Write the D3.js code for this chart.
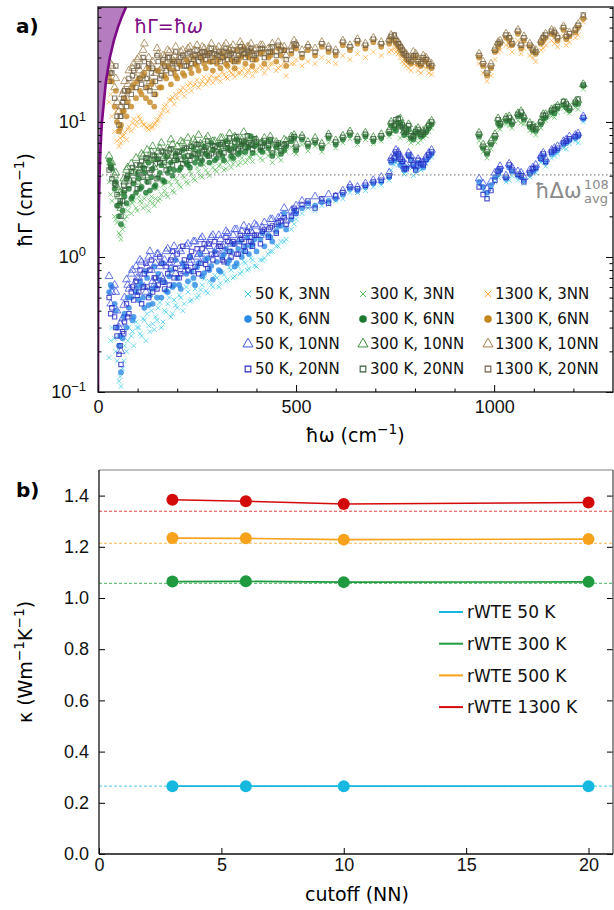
<!DOCTYPE html>
<html>
<head>
<meta charset="utf-8">
<script src="https://cdn.jsdelivr.net/npm/d3@7"></script>
<style>
  body { margin: 0; background: #fff; }
  svg { font-family: "DejaVu Sans", Verdana, sans-serif; }
</style>
</head>
<body>
<svg id="fig" width="614" height="910"></svg>
<script>
// ---------- panel a) data : linewidth vs frequency ----------
// two frequency grids, each series has one gamma list per grid
var omega = [
  28,35,42,48,53,58,62,67,72,78,84,90,96,
  103,110,117,124,131,138,145,152,160,168,176,184,192,
  200,209,218,227,236,245,254,263,272,281,290,
  300,309,318,327,336,345,354,363,372,381,390,
  400,410,420,430,440,450,462,475,488,
  500,515,530,548,565,582,600,618,636,
  655,675,695,715,735,748,758,768,778,790,802,815,828,842,
  962,972,982,992,1002,1015,1030,1045,1060,1075,1090,1105,1118,1130,1145,1160,1175,1190,1205,1225
];
var omegaB = [
  32,45,56,65,75,87,99,
  106,114,121,128,135,142,149,156,164,172,180,188,196,
  205,214,223,232,241,250,259,268,277,286,295,
  305,314,323,332,341,350,359,368,377,386,395,
  415,435,455,470,495,
  740,752,763,773,784,796,808,821,835,
  1010,1038,1068,1098,1124,1152,1182,1212
];

// 50 K
var g50_3 = [
  0.18,0.3,0.25,0.17,0.12,0.11,0.15,0.22,0.2,0.3,0.26,0.22,0.33,
  0.3,0.26,0.34,0.38,0.28,0.32,0.36,0.42,0.3,0.4,0.45,0.36,0.48,
  0.42,0.5,0.45,0.55,0.48,0.58,0.52,0.62,0.56,0.66,0.6,
  0.7,0.64,0.74,0.68,0.8,0.72,0.85,0.78,0.9,0.82,0.95,
  0.85,0.95,0.98,1.05,1.1,1.2,1.3,1.35,1.6,
  1.9,2.1,2.3,2.2,2.4,2.45,2.6,2.7,3.0,
  3.0,3.1,3.3,3.4,3.7,4.8,5.2,4.6,4.3,4.9,4.2,4.4,4.9,5.5,
  3.4,3.1,2.8,3.2,3.6,4.1,3.6,4.0,3.7,3.5,3.9,4.2,5.0,4.7,5.4,5.8,6.4,6.9,7.2,10
];
var g50_3b = [
  0.24,0.2,0.13,0.17,0.24,0.28,0.3,
  0.27,0.35,0.24,0.31,0.4,0.29,0.34,0.46,0.33,0.39,0.5,0.38,0.44,
  0.52,0.4,0.6,0.47,0.64,0.5,0.57,0.69,0.54,0.62,0.73,
  0.6,0.76,0.66,0.84,0.7,0.88,0.75,0.92,0.8,0.98,0.86,
  0.95,1.1,1.2,1.3,1.75,
  4.4,5.0,4.9,4.1,4.6,4.0,4.5,4.7,5.2,
  3.9,3.7,4.2,4.4,5.2,5.6,6.3,7.0
];
var g50_6 = [
  0.55,0.6,0.45,0.3,0.22,0.14,0.25,0.38,0.3,0.42,0.5,0.36,0.55,
  0.48,0.62,0.42,0.7,0.52,0.45,0.6,0.75,0.5,0.65,0.55,0.8,0.62,
  0.7,0.58,0.85,0.66,0.78,0.62,0.9,0.72,0.95,0.8,0.68,
  0.92,0.78,1.05,0.9,1.1,0.85,1.15,1.0,1.2,1.05,1.25,
  1.1,1.35,1.2,1.45,1.3,1.55,1.7,1.6,1.9,
  2.1,2.3,2.5,2.4,2.55,2.6,2.7,2.9,3.2,
  3.1,3.3,3.5,3.6,3.9,5.2,5.6,5.0,4.6,5.3,4.5,4.8,5.2,5.8,
  3.6,3.3,3.0,3.4,3.9,4.4,3.8,4.3,4.0,3.7,4.1,4.5,5.3,5.0,5.8,6.2,6.8,7.3,7.6,10.5
];
var g50_6b = [
  0.62,0.4,0.26,0.36,0.5,0.34,0.6,
  0.66,0.5,0.78,0.44,0.58,0.85,0.5,0.68,0.9,0.56,0.72,0.6,0.95,
  0.62,0.9,0.75,1.0,0.7,0.84,1.05,0.76,0.98,0.86,1.1,
  0.8,1.0,1.15,0.95,1.25,0.9,1.3,1.1,1.4,1.2,1.35,
  1.5,1.4,1.7,2.1,2.2,
  5.0,5.8,4.8,4.4,5.6,4.7,5.0,4.6,5.5,
  4.1,4.6,3.9,4.3,5.6,6.0,7.0,7.8
];
var g50_10 = [
  0.72,0.55,0.62,0.4,0.3,0.2,0.35,0.5,0.68,0.58,0.75,0.62,0.85,
  0.7,0.92,0.6,0.85,1.1,0.66,0.9,1.05,0.72,0.95,1.15,0.82,1.2,
  0.9,1.1,0.78,1.25,0.95,1.3,1.05,1.4,1.1,1.2,1.45,
  1.15,1.35,1.1,1.5,1.25,1.6,1.3,1.55,1.4,1.65,1.5,
  1.7,1.45,1.8,1.6,1.9,1.75,2.0,1.85,2.2,
  2.4,2.6,2.4,2.8,2.6,2.9,2.8,3.1,3.4,
  3.3,3.5,3.7,3.9,4.2,5.5,6.0,5.3,4.8,5.6,4.7,5.0,5.5,6.2,
  3.8,3.5,3.2,3.6,4.2,4.7,4.0,4.6,4.3,3.9,4.4,4.8,5.6,5.3,6.2,6.6,7.2,7.8,8.0,11
];
var g50_10b = [
  0.45,0.55,0.32,0.44,0.62,0.8,0.7,
  0.95,0.75,0.55,1.0,0.8,0.62,1.05,0.85,0.68,1.1,0.9,1.0,0.75,
  1.15,0.85,1.2,0.9,1.3,1.0,1.35,0.95,1.25,1.4,1.05,
  1.45,1.2,1.55,1.3,1.45,1.6,1.35,1.7,1.5,1.55,1.75,
  1.65,1.9,1.95,2.3,2.1,
  5.4,6.2,5.5,4.7,5.9,4.9,5.3,5.0,5.9,
  4.4,4.9,4.2,4.6,5.9,6.4,7.4,8.2
];
var g50_20 = [
  0.5,0.42,0.36,0.26,0.19,0.16,0.28,0.33,0.45,0.38,0.55,0.48,0.66,
  0.55,0.45,0.75,0.6,0.8,0.55,0.7,0.62,0.9,0.58,0.75,0.95,0.7,
  1.05,0.75,0.95,0.8,1.1,0.85,0.75,1.15,0.88,1.25,0.95,
  1.05,1.2,0.92,1.3,1.0,1.25,1.05,1.35,1.1,1.3,1.2,
  1.45,1.25,1.6,1.4,1.7,1.5,1.85,1.75,2.0,
  2.2,2.45,2.6,2.3,2.7,2.5,2.85,3.0,3.3,
  3.2,3.4,3.6,3.7,4.0,5.4,5.8,5.1,4.5,5.2,4.4,4.9,5.3,6.0,
  3.3,2.9,2.7,3.1,3.7,4.5,3.9,4.4,4.1,3.6,4.2,4.6,5.4,5.1,6.0,6.4,7.0,7.5,7.8,10.8
];
var g50_20b = [
  0.38,0.3,0.22,0.27,0.36,0.6,0.52,
  0.8,0.6,0.9,0.5,0.95,0.7,0.58,1.0,0.65,0.85,0.62,1.1,0.82,
  0.7,1.2,0.85,1.0,0.78,1.15,0.9,1.25,0.82,1.05,1.3,
  1.2,0.95,1.4,1.1,1.3,1.05,1.45,1.2,1.55,1.3,1.45,
  1.55,1.65,1.8,1.95,2.3,
  5.2,6.0,5.3,4.5,5.7,4.8,5.2,4.8,5.7,
  4.3,4.8,4.0,4.5,5.8,6.2,7.2,8.0
];

// 300 K
var g300_3 = [
  3.6,2.6,2.0,1.8,1.5,1.35,1.6,1.9,2.0,2.4,2.1,2.6,2.3,
  2.8,2.5,2.7,2.4,2.6,2.5,2.7,2.6,2.9,3.1,2.8,3.4,3.0,
  3.6,3.3,3.9,3.5,4.1,3.7,4.3,3.9,4.4,4.0,4.6,
  4.3,4.8,4.4,5.0,4.6,5.2,4.8,5.4,5.0,5.5,5.1,
  5.8,5.4,6.0,5.6,5.0,5.8,5.2,6.0,6.5,
  5.8,6.8,6.1,6.6,6.0,7.0,6.4,7.0,7.5,
  6.8,7.4,6.9,7.2,7.8,8.6,9.2,8.6,7.9,7.0,7.6,7.3,7.9,9.0,
  7.2,6.0,5.4,6.3,7.1,8.8,9.6,9.0,10.2,9.6,8.6,8.0,9.0,10.2,11.0,11.8,12.6,11.6,12.8,17.5
];
var g300_3b = [
  2.9,1.9,1.45,1.7,2.2,2.5,2.2,
  2.6,2.3,2.9,2.2,2.8,2.4,3.2,2.7,3.4,2.9,3.6,3.1,3.8,
  3.4,4.0,3.6,4.3,3.8,4.6,4.0,4.8,4.2,5.0,4.4,
  4.7,5.1,4.5,5.3,4.9,5.6,5.0,5.8,5.2,5.5,5.9,
  5.2,5.9,5.5,6.2,6.0,
  8.2,8.9,7.6,8.4,7.3,7.8,7.0,7.6,8.5,
  9.0,9.4,9.8,8.4,10.0,10.8,12.0,12.4
];
var g300_6 = [
  5.2,4.5,3.2,2.4,2.0,1.75,2.2,2.8,2.5,3.2,2.7,3.5,3.0,
  3.8,3.3,4.2,3.6,3.1,4.5,3.4,3.9,4.8,3.6,4.2,5.0,4.4,
  5.2,4.6,5.5,4.8,5.6,5.0,6.0,5.2,5.8,5.0,6.2,
  5.4,6.0,5.2,6.4,5.6,6.5,5.8,6.8,6.0,6.6,5.9,
  6.8,6.2,7.0,6.4,5.6,6.5,5.8,6.6,7.2,
  6.2,7.4,6.6,7.0,6.4,7.6,6.8,7.4,8.0,
  7.2,7.8,7.2,7.6,8.2,9.0,9.8,9.2,8.4,7.6,8.2,7.8,8.4,9.6,
  7.8,6.4,5.8,6.8,7.6,9.4,10.2,9.6,11.0,10.4,9.2,8.6,9.6,10.8,11.8,12.6,13.4,12.2,13.6,18.5
];
var g300_6b = [
  4.8,3.6,2.5,3.0,3.9,2.8,4.1,
  3.2,4.6,3.0,5.0,3.9,3.3,5.3,4.2,3.7,5.5,4.5,4.0,5.8,
  4.4,6.2,5.0,4.6,6.4,5.4,4.9,6.6,5.6,7.0,5.2,
  6.8,5.6,7.2,6.2,5.4,7.4,6.0,7.0,6.4,7.8,6.6,
  6.0,7.2,6.8,6.2,7.6,
  9.4,8.6,9.8,8.0,8.8,7.4,8.4,8.0,9.0,
  9.8,10.2,11.2,8.8,10.6,11.6,12.8,13.6
];
var g300_10 = [
  5.6,5.0,4.0,3.3,2.8,2.3,3.0,3.6,4.4,3.8,4.9,4.2,5.4,
  4.6,5.8,4.8,6.2,5.2,6.6,5.4,6.0,7.0,5.6,6.4,7.4,5.9,
  6.6,7.2,6.0,7.6,6.4,7.0,8.0,6.6,7.4,6.2,7.2,
  6.5,7.6,6.6,7.2,6.8,7.8,6.9,7.4,7.0,7.6,6.8,
  7.4,6.9,7.6,7.0,6.2,7.1,6.4,7.2,7.8,
  6.8,7.9,7.1,7.6,6.9,8.1,7.3,7.9,8.5,
  7.7,8.3,7.7,8.1,8.7,9.6,10.4,9.7,8.9,8.1,8.7,8.3,8.9,10.2,
  8.3,6.8,6.2,7.2,8.1,9.9,10.8,10.2,11.6,11.0,9.8,9.1,10.2,11.4,12.4,13.2,14.0,12.8,14.2,19
];
var g300_10b = [
  5.0,4.2,3.0,3.8,4.6,4.2,3.6,
  4.4,5.6,4.0,5.2,6.0,4.6,5.4,6.4,4.8,5.8,5.2,6.8,5.4,
  5.6,7.0,5.2,6.6,7.4,5.8,6.9,6.2,7.8,6.4,7.2,
  6.2,7.6,6.8,8.2,6.4,7.4,7.0,8.4,6.8,7.6,7.2,
  7.0,7.8,6.6,7.4,8.0,
  10.0,9.4,10.6,8.6,9.6,8.0,9.0,8.6,9.7,
  10.6,11.0,12.0,9.4,11.4,12.6,13.8,14.4
];
var g300_20 = [
  4.4,3.8,3.5,2.9,2.4,2.0,2.6,3.1,3.8,3.4,4.3,3.7,4.8,
  4.2,5.1,4.5,5.4,4.2,5.7,4.9,5.3,6.1,5.0,5.6,6.3,5.2,
  6.0,5.3,6.4,5.6,6.6,5.8,6.8,6.0,6.5,5.6,6.7,
  6.0,6.8,5.9,6.9,6.2,7.1,6.3,7.2,6.5,7.0,6.3,
  7.1,6.5,7.3,6.7,5.9,6.8,6.1,6.9,7.5,
  6.5,7.7,6.9,7.3,6.7,7.9,7.1,7.7,8.3,
  7.5,8.1,7.5,7.9,8.5,9.4,10.6,9.5,8.7,7.9,8.5,8.1,8.7,10.0,
  8.1,6.6,6.0,7.0,7.9,9.7,10.6,10.0,11.4,10.8,9.6,8.9,10.0,11.2,12.2,13.0,14.2,12.6,14.0,18.8
];
var g300_20b = [
  4.6,3.4,2.6,3.4,4.0,4.6,3.2,
  4.8,3.9,5.4,3.6,4.4,5.6,3.8,5.0,6.0,4.4,6.2,4.8,5.6,
  6.0,4.9,6.4,5.2,5.8,6.8,5.4,6.2,7.2,5.8,6.6,
  5.8,7.0,6.4,7.6,6.0,7.8,6.6,7.2,7.9,6.8,7.5,
  6.6,7.4,7.0,6.8,7.8,
  9.8,10.4,9.2,8.4,9.4,7.8,8.8,8.4,9.4,
  10.4,10.8,11.8,9.2,11.2,12.4,13.6,14.8
];

// 1300 K
var g1300_3 = [
  14,11,8.5,7.2,6.6,7.0,7.8,8.4,7.4,9.2,8.6,10.5,9.4,
  11,10,9.5,9.0,9.4,9.2,9.8,10.4,11.5,13,12,14.5,13.5,
  15,17,15.5,18.5,17,19,18,20,19,21,19.5,
  21,20,22.5,21,23,21.5,23,24,22,24,22,
  24,26,23,25,27,24,26,22,27,
  29,26,28,27,30,28,27,31,29,
  32,30,33,31,33,35,32,28,26,24,26,23,25,22.5,
  27,23,20,22,29,34,37,33,40,35,31,28,34,37,40,36,43,39,42,55
];
var g1300_3b = [
  16,12,7.6,8.0,8.8,9.8,10,
  10.5,9.6,9.2,8.8,9.0,9.6,10.2,11,12.2,13.4,14.6,15.2,16,
  16.5,18,17,19.5,18.5,20.5,19,21.5,20,22,21,
  22,23.5,21.5,24,22.5,24.5,23,25,23.5,25.5,24,
  25,27,25,28,27,
  34,33,30,27,25,27,24,26,23,
  33,36,32,30,35,38,37,44
];
var g1300_6 = [
  22,20,13,10,8.5,9.5,12,15,11,17,13,19,15,
  21,16,23,18,14,20,16,24,18,22,26,19,24,
  21,26,22,28,23,27,24,29,25,28,24,
  27,25,30,26,29,25,28,31,27,30,26,
  29,32,27,30,33,28,31,26,32,
  35,30,34,31,36,33,31,37,34,
  38,35,39,36,38,40,36,32,29,27,30,26,28,25,
  30,26,22,25,33,38,42,37,45,40,36,32,38,42,45,40,48,43,46,58
];
var g1300_6b = [
  20,17,9,12,14,18,20,
  17,22,15,25,19,13,24,18,27,21,25,28,22,
  27,23,29,25,30,26,31,27,32,28,30,
  29,32,27,33,28,34,30,35,31,33,29,
  33,31,35,34,36,
  41,38,34,31,28,30,27,29,26,
  36,40,35,33,40,44,41,50
];
var g1300_10 = [
  24,26,18,14,12,13,16,20,15,24,18,27,21,
  30,22,38,25,20,28,23,32,25,30,34,26,31,
  28,33,29,35,30,34,31,36,32,35,31,
  34,31,36,32,35,31,34,37,33,36,32,
  35,37,32,35,38,33,36,31,36,
  38,34,37,35,39,36,34,40,37,
  41,38,42,39,41,43,39,35,32,29,32,28,30,27,
  32,28,24,27,35,40,45,39,48,43,38,34,40,45,48,43,51,46,49,60
];
var g1300_10b = [
  27,21,13,17,19,25,29,
  24,34,21,30,26,18,35,24,31,27,33,29,36,
  30,34,28,36,31,37,32,35,33,38,34,
  36,33,38,34,37,32,39,35,36,38,34,
  37,35,39,36,40,
  44,41,37,33,30,33,29,31,28,
  39,43,38,35,43,47,44,53
];
var g1300_20 = [
  20,23,15,11,9.5,11,14,17,13,21,16,24,18,
  26,19,28,21,17,25,20,28,22,26,30,23,28,
  25,30,26,32,27,31,28,33,29,32,28,
  31,28,33,29,32,28,31,34,30,33,29,
  32,35,30,33,36,31,34,29,34,
  37,32,36,33,38,35,33,39,36,
  40,37,41,38,40,44,38,34,31,28,31,27,29,26,
  31,27,23,26,34,39,44,38,47,42,37,33,39,44,47,42,50,45,48,62
];
var g1300_20b = [
  23,26,11,15,17,22,26,
  21,30,18,27,23,16,31,21,29,24,30,27,33,
  28,31,26,33,29,34,30,33,31,35,32,
  33,30,35,31,34,29,36,32,34,35,31,
  35,33,37,34,38,
  43,40,36,32,29,31,28,30,27,
  38,42,37,34,42,46,43,52
];

var temps = ["50 K", "300 K", "1300 K"];
var nnNames = ["3NN", "6NN", "10NN", "20NN"];
var gammaSets = [
  [[g50_3, g50_3b], [g50_6, g50_6b], [g50_10, g50_10b], [g50_20, g50_20b]],
  [[g300_3, g300_3b], [g300_6, g300_6b], [g300_10, g300_10b], [g300_20, g300_20b]],
  [[g1300_3, g1300_3b], [g1300_6, g1300_6b], [g1300_10, g1300_10b], [g1300_20, g1300_20b]]
];
var colorSets = [
  ["#3fcbea", "#2a8ae6", "#4257e0", "#2828c0"],
  ["#5cbf5c", "#1b7a2f", "#3f8f3f", "#345a38"],
  ["#ffa93a", "#c4861f", "#a08250", "#6e5e45"]
];
var avgSpacing = 4.05;   // hbar Delta omega_avg^108

// ---------- panel b) data : conductivity vs cutoff ----------
var cutoffs = [3, 6, 10, 20];
var kappa50 = [0.265, 0.265, 0.265, 0.265];
var kappa300 = [1.064, 1.065, 1.062, 1.063];
var kappa500 = [1.234, 1.233, 1.228, 1.230];
var kappa1300 = [1.384, 1.378, 1.367, 1.373];
var kappaRef = [0.265, 1.057, 1.214, 1.339];
var kNames = ["rWTE 50 K", "rWTE 300 K", "rWTE 500 K", "rWTE 1300 K"];
var kColors = ["#17b8e0", "#1f9a3e", "#f7a21b", "#d40a0a"];
var kRefColors = ["#6fd3ec", "#6dbf7e", "#f6b84f", "#e64545"];

var svg = d3.select("#fig");

// small helper for text with superscripts
function richText(sel, parts, size) {
  parts.forEach(function(p) {
    var t = sel.append("tspan").text(p[0]);
    if (p[1] == "sup") t.attr("baseline-shift", "super").style("font-size", (size * 0.72) + "px");
  });
  return sel;
}

function crossPath(r) {
  return "M" + (-r) + "," + (-r) + "L" + r + "," + r + "M" + (-r) + "," + r + "L" + r + "," + (-r);
}

function drawMarker(g, kind, color, scale) {
  scale = scale || 1;
  if (kind == 0) {
    return g.append("path").attr("d", crossPath(2.4 * scale))
      .attr("fill", "none").attr("stroke", color).attr("stroke-width", 1);
  } else if (kind == 1) {
    return g.append("circle").attr("r", 2.9 * scale).attr("fill", color);
  } else if (kind == 2) {
    return g.append("path").attr("d", d3.symbol(d3.symbolTriangle, 26 * scale * scale)())
      .attr("fill", "none").attr("stroke", color).attr("stroke-width", 1);
  } else {
    return g.append("path").attr("d", d3.symbol(d3.symbolSquare, 19 * scale * scale)())
      .attr("fill", "none").attr("stroke", color).attr("stroke-width", 1.1);
  }
}

// ===================== panel a) =====================
var ax = {left: 98, right: 613, top: 7, bottom: 392};
var x = d3.scaleLinear().domain([0, 1300]).range([ax.left, ax.right]);
var y = d3.scaleLog().domain([0.1, 71]).range([ax.bottom, ax.top]);

var pa = svg.append("g");
pa.append("defs").append("clipPath").attr("id", "clipA")
  .append("rect").attr("x", ax.left).attr("y", ax.top)
  .attr("width", ax.right - ax.left).attr("height", ax.bottom - ax.top);

// scatter
var dots = pa.append("g").attr("clip-path", "url(#clipA)");
gammaSets.forEach(function(set, ti) {
  set.forEach(function(pair, k) {
    var pts = omega.map(function(w, i) { return [w, pair[0][i]]; })
      .concat(omegaB.map(function(w, i) { return [w, pair[1][i]]; }))
      .filter(function(d) { return d[1] != null; });
    pts.forEach(function(d) {
      var m = drawMarker(dots, k, colorSets[ti][k]);
      m.attr("transform", "translate(" + x(d[0]) + "," + y(d[1]) + ")")
       .attr("opacity", k == 0 ? 0.75 : 0.8);
    });
  });
});

// hbar Gamma = hbar omega line and shaded region
var lineVals = y.ticks().concat([71]);
var area = [[0, 0.1]].concat(lineVals.map(function(v) { return [v, v]; })).concat([[0, 71]]);
var pline = d3.line().x(function(d) { return x(d[0]); }).y(function(d) { return y(d[1]); });
pa.append("path")
  .attr("clip-path", "url(#clipA)")
  .attr("d", pline(area) + "Z")
  .attr("fill", "#b57dbf");
pa.append("path")
  .attr("clip-path", "url(#clipA)")
  .attr("d", pline(lineVals.map(function(v) { return [v, v]; })))
  .attr("fill", "none").attr("stroke", "#7d0a85").attr("stroke-width", 2.6);

var lab = pa.append("text").attr("x", 134).attr("y", 33).attr("fill", "#7d0a85").style("font-size", "19px");
lab.append("tspan").text("ħΓ=ħ");
lab.append("tspan").text("ω").style("font-style", "italic");

// average spacing
pa.append("line")
  .attr("x1", ax.left).attr("x2", ax.right).attr("y1", y(avgSpacing)).attr("y2", y(avgSpacing))
  .attr("stroke", "#8a8a8a").attr("stroke-width", 1.3).attr("stroke-dasharray", "1.5,2.5");
pa.append("text").attr("x", 535).attr("y", 198).attr("fill", "#8a8a8a")
  .style("font-size", "21px").text("ħΔω");
pa.append("text").attr("x", 584).attr("y", 189).attr("fill", "#8a8a8a")
  .style("font-size", "13px").text("108");
pa.append("text").attr("x", 584).attr("y", 203).attr("fill", "#8a8a8a")
  .style("font-size", "13px").text("avg");

// axes
var majorY = [0.1, 1, 10];
var minorY = y.ticks().filter(function(v) { return majorY.indexOf(v) < 0; });
var expo = {0.1: "−1", 1: "0", 10: "1"};

pa.append("g").attr("transform", "translate(" + ax.left + ",0)")
  .call(d3.axisLeft(y).tickValues(minorY).tickSize(-3.5).tickFormat(""));
var yl = pa.append("g").attr("transform", "translate(" + ax.left + ",0)")
  .call(d3.axisLeft(y).tickValues(majorY).tickSize(-7).tickPadding(12).tickFormat(""));
yl.selectAll(".tick text").each(function(v) {
  var t = d3.select(this).style("font-size", "18px").attr("fill", "#111");
  t.append("tspan").text("10");
  t.append("tspan").text(expo[v]).attr("baseline-shift", "super").style("font-size", "13px");
});
pa.append("g").attr("transform", "translate(" + ax.right + ",0)")
  .call(d3.axisRight(y).tickValues(minorY).tickSize(-3.5).tickFormat(""));
pa.append("g").attr("transform", "translate(" + ax.right + ",0)")
  .call(d3.axisRight(y).tickValues(majorY).tickSize(-7).tickFormat(""));

pa.append("g").attr("transform", "translate(0," + ax.bottom + ")")
  .call(d3.axisBottom(x).tickValues(d3.range(100, 1300, 100).filter(function(v) { return v % 500; })).tickSize(-3.5).tickFormat(""));
pa.append("g").attr("transform", "translate(0," + ax.bottom + ")")
  .call(d3.axisBottom(x).tickValues([0, 500, 1000]).tickSize(-7).tickPadding(8).tickFormat(d3.format("d")))
  .selectAll("text").style("font-size", "18px").attr("fill", "#111");

pa.selectAll(".domain").remove();
pa.append("rect").attr("x", ax.left).attr("y", ax.top)
  .attr("width", ax.right - ax.left).attr("height", ax.bottom - ax.top)
  .attr("fill", "none").attr("stroke", "#111").attr("stroke-width", 1.3);

// axis titles
richText(pa.append("text").attr("x", 355).attr("y", 442).attr("text-anchor", "middle").style("font-size", "19px"),
  [["ħω (cm"], ["−1", "sup"], [")"]], 19);
richText(pa.append("text").attr("transform", "translate(32,200)rotate(-90)").attr("text-anchor", "middle").style("font-size", "19px"),
  [["ħΓ (cm"], ["−1", "sup"], [")"]], 19);
pa.append("text").attr("x", 16).attr("y", 33).style("font-size", "20px").style("font-weight", "bold").text("a)");

// legend
var legX = [248, 363, 488], legY = [294, 319, 344, 369];
temps.forEach(function(tn, ti) {
  nnNames.forEach(function(nn, k) {
    var g = pa.append("g").attr("transform", "translate(" + legX[ti] + "," + legY[k] + ")");
    drawMarker(g, k, colorSets[ti][k], 1.3);
    g.append("text").attr("x", 7).attr("dy", "0.36em").style("font-size", "15px").attr("fill", "#111")
      .text(tn + ", " + nn);
  });
});

// ===================== panel b) =====================
var bx = {left: 99, right: 613, top: 470, bottom: 854};
var x2 = d3.scaleLinear().domain([0, 21]).range([bx.left, bx.right]);
var y2 = d3.scaleLinear().domain([0, 1.5]).range([bx.bottom, bx.top]);

var pb = svg.append("g");
var kSeries = [kappa50, kappa300, kappa500, kappa1300];

kappaRef.forEach(function(v, i) {
  pb.append("line").attr("x1", bx.left).attr("x2", bx.right)
    .attr("y1", y2(v)).attr("y2", y2(v))
    .attr("stroke", kRefColors[i]).attr("stroke-width", 1.1).attr("stroke-dasharray", "3,2");
});

var kline = d3.line().x(function(d) { return x2(d[0]); }).y(function(d) { return y2(d[1]); });
kSeries.forEach(function(ks, i) {
  var pts = d3.zip(cutoffs, ks);
  pb.append("path").attr("d", kline(pts)).attr("fill", "none")
    .attr("stroke", kColors[i]).attr("stroke-width", 1.6);
  pb.selectAll(null).data(pts).enter().append("circle")
    .attr("cx", function(d) { return x2(d[0]); })
    .attr("cy", function(d) { return y2(d[1]); })
    .attr("r", 6).attr("fill", kColors[i]);
});

pb.append("g").attr("transform", "translate(" + bx.left + ",0)")
  .call(d3.axisLeft(y2).tickValues(d3.range(0, 1.41, 0.2)).tickSize(-6).tickPadding(10).tickFormat(d3.format(".1f")))
  .selectAll("text").style("font-size", "18px").attr("fill", "#111");
pb.append("g").attr("transform", "translate(" + bx.right + ",0)")
  .call(d3.axisRight(y2).tickValues(d3.range(0, 1.41, 0.2)).tickSize(-6).tickFormat(""));
pb.append("g").attr("transform", "translate(0," + bx.bottom + ")")
  .call(d3.axisBottom(x2).tickValues([0, 5, 10, 15, 20]).tickSize(-6).tickPadding(4))
  .selectAll("text").style("font-size", "18px").attr("fill", "#111");
pb.selectAll(".domain").remove();

pb.append("line").attr("x1", bx.left).attr("x2", bx.right).attr("y1", bx.top).attr("y2", bx.top)
  .attr("stroke", "#aaa").attr("stroke-width", 1.3);
pb.append("line").attr("x1", bx.right).attr("x2", bx.right).attr("y1", bx.top).attr("y2", bx.bottom)
  .attr("stroke", "#555").attr("stroke-width", 1.3);
pb.append("line").attr("x1", bx.left).attr("x2", bx.left).attr("y1", bx.top).attr("y2", bx.bottom)
  .attr("stroke", "#111").attr("stroke-width", 1.3);
pb.append("line").attr("x1", bx.left).attr("x2", bx.right).attr("y1", bx.bottom).attr("y2", bx.bottom)
  .attr("stroke", "#111").attr("stroke-width", 1.3);

// legend
kNames.forEach(function(n, i) {
  var yy = 612 + i * 31.7;
  pb.append("line").attr("x1", 439).attr("x2", 463).attr("y1", yy).attr("y2", yy)
    .attr("stroke", kColors[i]).attr("stroke-width", 2);
  pb.append("text").attr("x", 467).attr("y", yy).attr("dy", "0.36em")
    .style("font-size", "17px").attr("fill", "#111").text(n);
});

pb.append("text").attr("x", 357).attr("y", 901).attr("text-anchor", "middle")
  .style("font-size", "19px").text("cutoff (NN)");
richText(pb.append("text").attr("transform", "translate(32,662)rotate(-90)").attr("text-anchor", "middle").style("font-size", "19px"),
  [["κ (Wm"], ["−1", "sup"], ["K"], ["−1", "sup"], [")"]], 19);
pb.append("text").attr("x", 16).attr("y", 497).style("font-size", "20px").style("font-weight", "bold").text("b)");
</script>
</body>
</html>
